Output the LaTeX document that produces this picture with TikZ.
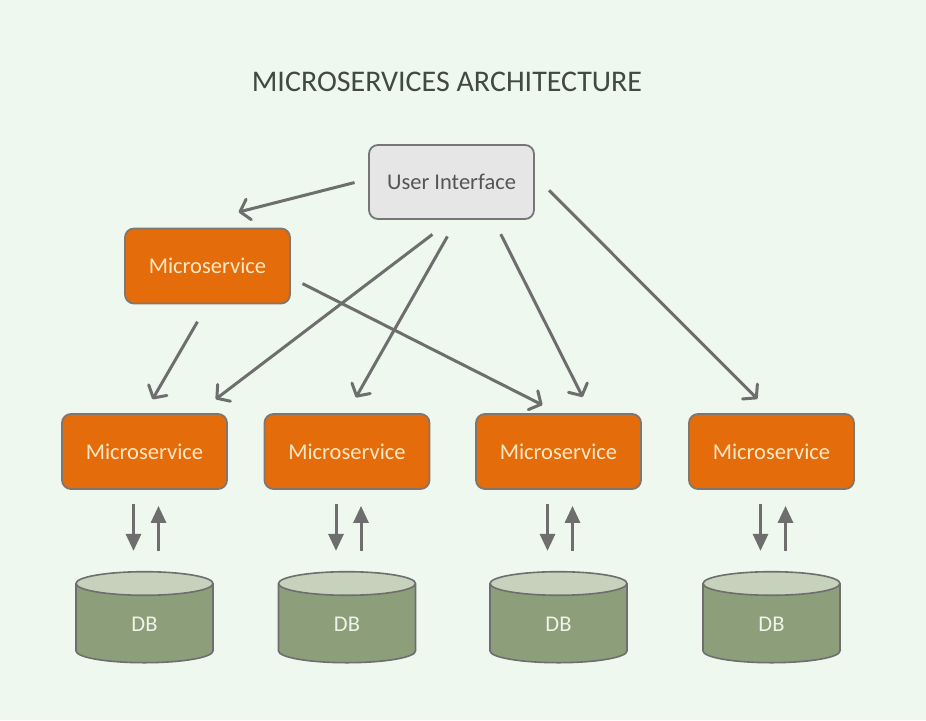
\documentclass[tikz,border=0pt]{standalone}
\usepackage{fontspec}
\setmainfont{Carlito}
\usetikzlibrary{arrows.meta,positioning,calc,shapes.geometric}
\definecolor{bgcol}{HTML}{EEF8EE}
\definecolor{titlecol}{HTML}{3F4A40}
\definecolor{uifill}{HTML}{E6E6E6}
\definecolor{uiline}{HTML}{767676}
\definecolor{uitext}{HTML}{555555}
\definecolor{msorange}{HTML}{E46C0A}
\definecolor{msline}{HTML}{7F7670}
\definecolor{mstext}{HTML}{FFE8C6}
\definecolor{dbbody}{HTML}{8C9E7A}
\definecolor{dbtop}{HTML}{C6D2BC}
\definecolor{dbline}{HTML}{6E6E6E}
\definecolor{dbtext}{HTML}{EEF4E8}
\definecolor{arrowgray}{HTML}{6E6E6E}

\begin{document}
\begin{tikzpicture}[x=1pt,y=-1pt]
\tikzset{uibox/.style={draw=uiline, line width=1.8pt, fill=uifill, rounded corners=9pt, minimum width=165pt, minimum height=74pt, text=uitext, font=\fontsize{22.5}{26}\selectfont}} % grey top box
\tikzset{msbox/.style={draw=msline, line width=1.8pt, fill=msorange, rounded corners=9pt, minimum width=165pt, minimum height=75pt, text=mstext, font=\fontsize{22.5}{26}\selectfont}} % orange service boxes
\tikzset{dbcyl/.style={cylinder, shape border rotate=90, aspect=0.72, draw=dbline, line width=1.6pt, cylinder uses custom fill, cylinder body fill=dbbody, cylinder end fill=dbtop, minimum width=137pt, minimum height=91pt, text=dbtext, font=\fontsize{22.5}{26}\selectfont}}
\tikzset{link/.style={draw=arrowgray, line width=3pt, -{Straight Barb[length=9pt,width=21pt,line cap=round,line join=round]}}} % open heads
\tikzset{dblink/.style={draw=arrowgray, line width=3pt, -{Triangle[length=17pt,width=15pt]}}} % filled heads
\useasboundingbox[fill=bgcol] (0,0) rectangle (926,720);
\node[text=titlecol, font=\fontsize{30}{34}\selectfont] (title) at (447,82) {MICROSERVICES ARCHITECTURE};
\node[uibox] (ui) at (451.5,182) {User Interface};
\node[msbox] (ums) at (207.5,266) {Microservice};
% bottom row: service, database and the two short arrows between them
\foreach \i/\x in {1/144.5, 2/347, 3/558.5, 4/771.5}{
  \node[msbox] (ms\i) at (\x,451.5) {Microservice};
  \node[dbcyl, below=81pt of ms\i] (db\i) {\raisebox{3pt}{DB}};
  \draw[dblink, shorten <=14pt, shorten >=20pt] ($(ms\i.south)+(-11,0)$) -- ($(db\i.north)+(-11,0)$);
  \draw[dblink, shorten <=20pt, shorten >=16pt] ($(db\i.north)+(14,0)$) -- ($(ms\i.south)+(14,0)$);
}
% calls from the interface and the first service
\draw[link, shorten <=14pt, shorten >=63pt] (ui.178) -- (ums.128);
\draw[link, shorten <=20pt, shorten >=16pt] (ums.south) -- (ms1.north);
\draw[link, shorten <=13pt, shorten >=18pt] (ums.-8) -- (ms3.north);
\draw[link, shorten <=24pt, shorten >=23pt] (ui.south) -- (ms1.36);
\draw[link, shorten <=19pt, shorten >=18pt] (ui.-82) -- (ms2.north);
\draw[link, shorten <=16pt, shorten >=18pt] (ui.-42) -- (ms3.50);
\draw[link, shorten <=20pt, shorten >=20pt] (ui.4) -- (ms4.north);
\end{tikzpicture}
\end{document}
